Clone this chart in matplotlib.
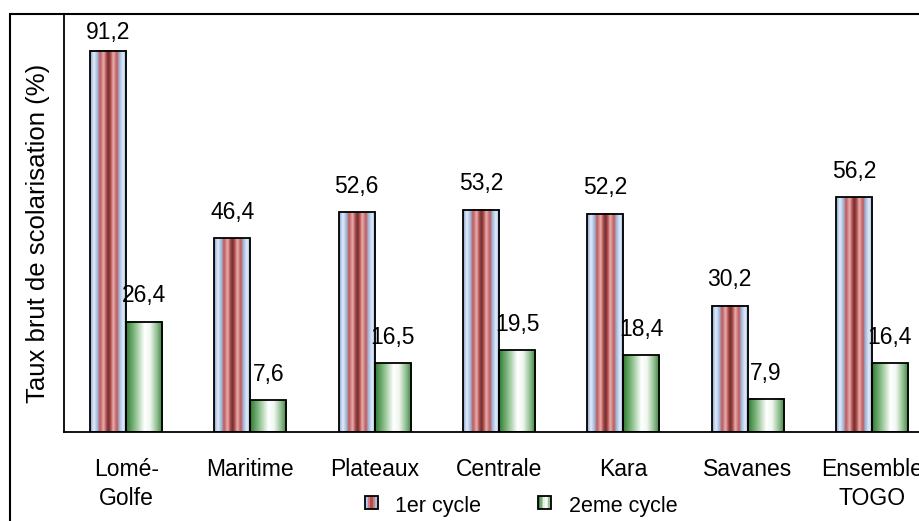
import numpy as np
import matplotlib
matplotlib.use("Agg")
import matplotlib.pyplot as plt
from matplotlib.colors import LinearSegmentedColormap
from matplotlib.patches import Rectangle
from matplotlib.legend_handler import HandlerBase

plt.rcParams['font.family'] = ['Liberation Sans', 'DejaVu Sans']

# data
regions = ['Lomé-\nGolfe', 'Maritime', 'Plateaux', 'Centrale', 'Kara', 'Savanes', 'Ensemble\nTOGO']
cycle1 = [91.2, 46.4, 52.6, 53.2, 52.2, 30.2, 56.2]
cycle2 = [26.4, 7.6, 16.5, 19.5, 18.4, 7.9, 16.4]
series_names = ['1er cycle', '2eme cycle']

# gradient profiles across the bar width
cmap1 = LinearSegmentedColormap.from_list('c1', [
    (0.0, '#7f9fcf'), (0.1, '#e4edf8'), (0.2, '#9fb9de'), (0.27, '#c0585a'),
    (0.37, '#e8b0b0'), (0.44, '#b34c4c'), (0.5, '#6b3030'),
    (0.56, '#b34c4c'), (0.63, '#e8b0b0'), (0.73, '#c0585a'), (0.8, '#9fb9de'),
    (0.9, '#e4edf8'), (1.0, '#7f9fcf')])
cmap2 = LinearSegmentedColormap.from_list('c2', [
    (0.0, '#2f7a2f'), (0.25, '#8cc08c'), (0.5, '#ffffff'), (0.65, '#f2f8f2'),
    (0.85, '#8cbc8c'), (1.0, '#3a7c3a')])
grad = np.linspace(0, 1, 200).reshape(1, -1)

fig = plt.figure(figsize=(9.2, 5.21), dpi=100)
ax = fig.add_axes([64 / 920, 89 / 521, 870 / 920, 418 / 521])

x = np.arange(len(regions))
w = 0.29
fs = 16.5

for vals, off, cm in [(cycle1, -w / 2, cmap1), (cycle2, w / 2, cmap2)]:
    bars = ax.bar(x + off, vals, w, color='none', edgecolor='black', linewidth=1.3, zorder=3)
    for r, v in zip(bars, vals):
        ax.imshow(grad, cmap=cm, aspect='auto', zorder=2, interpolation='bilinear',
                  extent=[r.get_x(), r.get_x() + r.get_width(), 0, r.get_height()])
        ax.text(r.get_x() + r.get_width() / 2, min(v + 6.2, 95.5), f'{v:.1f}'.replace('.', ','),
                ha='center', va='center', fontsize=fs)

ax.set_xlim(-0.5, len(regions) - 0.5)
ax.set_ylim(0, 100)
ax.set_yticks([])
ax.set_xticks(x)
ax.set_xticklabels(regions, fontsize=fs, linespacing=1.3)
ax.tick_params(axis='x', length=0, pad=19)
for s in ['top', 'right']:
    ax.spines[s].set_visible(False)
for s in ['left', 'bottom']:
    ax.spines[s].set_linewidth(1.3)
ax.set_ylabel('Taux brut de scolarisation (%)', fontsize=18.5)
ax.yaxis.set_label_coords(-0.016, 0.475)

# outer chart border (cut off on right and bottom)
fig.patches.append(Rectangle((10 / 920, -0.1), 1.2, 0.1 + 507 / 521, transform=fig.transFigure,
                             fill=False, edgecolor='black', linewidth=1.5, clip_on=False))


class GradHandler(HandlerBase):
    def __init__(self, cm):
        super().__init__()
        self.cm = cm

    def create_artists(self, legend, orig_handle, xdescent, ydescent, width, height, fontsize, trans):
        arts = []
        n = 8
        size = height
        x0 = (width - size) / 2 - xdescent
        y0 = -ydescent + 1
        for i in range(n):
            arts.append(Rectangle((x0 + i * size / n, y0), size / n, size,
                                  facecolor=self.cm((i + 0.5) / n), edgecolor='none', transform=trans))
        arts.append(Rectangle((x0, y0), size, size, fill=False, edgecolor='black',
                              linewidth=1.3, transform=trans))
        return arts


h1 = Rectangle((0, 0), 1, 1)
h2 = Rectangle((0, 0), 1, 1)
fig.legend([h1, h2], series_names, loc='center', bbox_to_anchor=(0.566, 0.028), ncol=2,
           frameon=False, fontsize=15.5, handlelength=0.7, handleheight=0.55, handletextpad=0.75,
           columnspacing=2.6, borderpad=0,
           handler_map={h1: GradHandler(cmap1), h2: GradHandler(cmap2)})

fig.savefig('out.png', dpi=100)
